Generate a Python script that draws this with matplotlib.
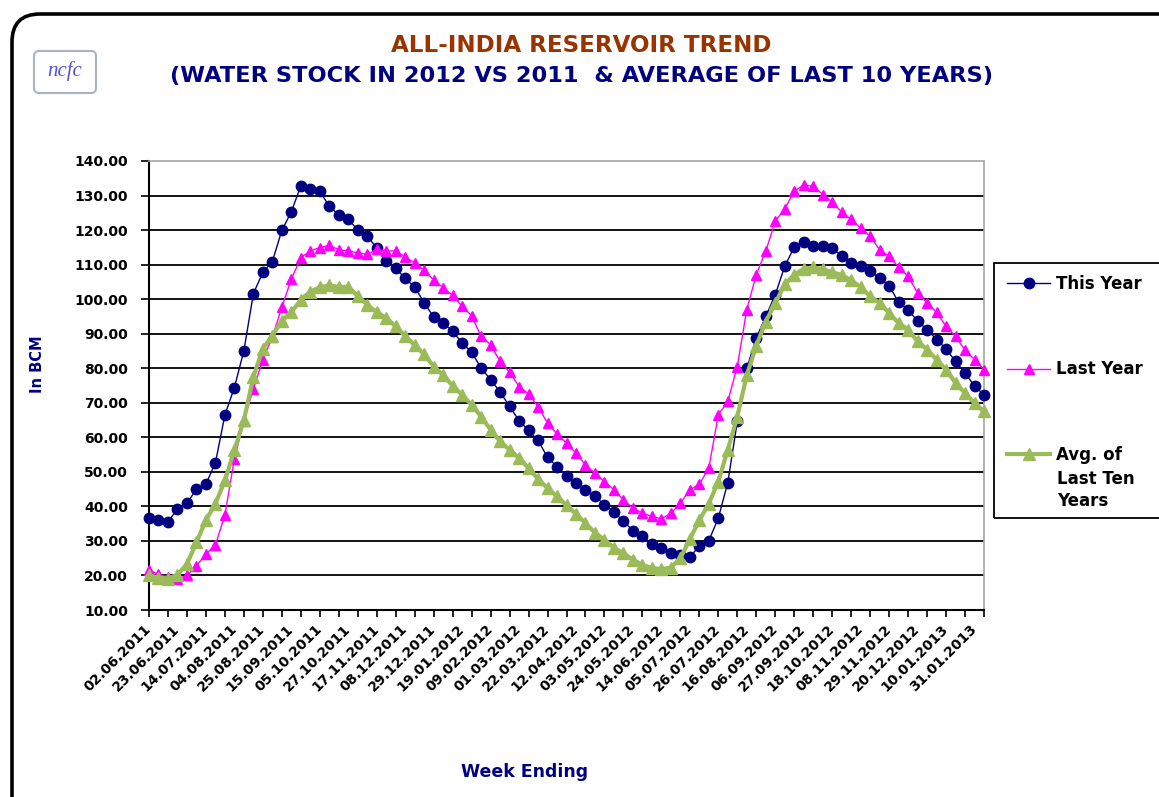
import numpy as np
import matplotlib

matplotlib.use("Agg")
import matplotlib.pyplot as plt
from matplotlib.patches import FancyBboxPatch, Rectangle
from matplotlib.transforms import IdentityTransform
from matplotlib.lines import Line2D


# weekly storage, in BCM, 02.06.2011 .. 07.02.2013
this_year = [
    36.5, 36.2, 35.6, 39.2, 40.9, 45.0, 46.5, 52.6, 66.5, 74.4,
    85.1, 101.6, 107.8, 110.9, 119.9, 125.3, 132.8, 132.0, 131.2, 126.9,
    124.4, 123.2, 120.0, 118.4, 114.7, 111.0, 109.0, 106.0, 103.5, 99.0,
    94.8, 93.1, 90.7, 87.3, 84.6, 80.1, 76.7, 73.1, 69.0, 64.8,
    62.0, 59.1, 54.2, 51.5, 48.8, 46.7, 44.7, 42.9, 40.5, 38.4,
    35.7, 33.0, 31.3, 29.2, 27.9, 26.4, 26.0, 25.4, 28.5, 30.1,
    36.6, 46.9, 64.6, 80.0, 88.7, 95.0, 101.3, 109.5, 115.1, 116.6,
    115.5, 115.5, 114.8, 112.5, 110.4, 109.7, 108.1, 106.1, 103.9, 99.1,
    97.0, 93.6, 91.2, 88.3, 85.6, 82.0, 78.6, 74.9, 72.3,
]
last_year = [
    21.5, 20.3, 19.6, 19.0, 20.0, 22.8, 26.2, 28.8, 37.5, 53.8,
    64.8, 74.0, 82.5, 89.0, 97.7, 105.8, 112.0, 114.0, 114.9, 115.6,
    114.3, 114.0, 113.4, 113.0, 114.4, 113.9, 114.0, 112.2, 110.5, 108.4,
    105.5, 103.3, 101.1, 97.9, 95.2, 89.2, 86.8, 82.0, 78.8, 74.7,
    72.6, 68.9, 64.1, 60.9, 58.3, 55.4, 52.0, 49.6, 47.2, 44.8,
    41.9, 39.5, 38.0, 37.1, 36.4, 38.0, 40.9, 44.8, 46.4, 51.1,
    66.5, 70.4, 80.5, 97.0, 107.1, 113.9, 122.6, 126.1, 131.3, 133.0,
    132.7, 130.3, 128.1, 125.2, 123.1, 120.6, 118.2, 114.3, 112.4, 109.3,
    106.6, 101.8, 98.9, 96.2, 92.1, 89.2, 85.2, 82.5, 79.6,
]
avg_ten = [
    20.0, 19.4, 19.1, 20.2, 23.3, 29.6, 36.0, 40.8, 47.5, 56.3,
    65.0, 77.5, 85.7, 89.4, 93.8, 96.2, 99.8, 102.2, 103.4, 104.0,
    103.5, 103.6, 100.9, 98.4, 96.2, 94.6, 92.1, 89.3, 86.7, 84.0,
    80.5, 78.0, 74.9, 72.3, 69.4, 66.0, 62.2, 58.8, 56.4, 54.0,
    51.1, 47.9, 45.3, 42.9, 40.3, 37.8, 35.1, 32.4, 30.3, 28.0,
    26.4, 24.6, 23.0, 22.2, 21.8, 22.3, 25.0, 30.5, 36.0, 40.8,
    47.2, 56.4, 66.0, 78.0, 86.5, 93.5, 98.8, 104.3, 107.1, 108.8,
    109.2, 108.7, 107.8, 107.0, 105.5, 103.5, 100.8, 98.9, 96.0, 93.1,
    91.2, 87.8, 85.4, 82.5, 79.6, 75.7, 72.8, 69.9, 67.5,
]
# every third week is labelled
week_labels = [
    "02.06.2011", "23.06.2011", "14.07.2011", "04.08.2011", "25.08.2011",
    "15.09.2011", "05.10.2011", "27.10.2011", "17.11.2011", "08.12.2011",
    "29.12.2011", "19.01.2012", "09.02.2012", "01.03.2012", "22.03.2012",
    "12.04.2012", "03.05.2012", "24.05.2012", "14.06.2012", "05.07.2012",
    "26.07.2012", "16.08.2012", "06.09.2012", "27.09.2012", "18.10.2012",
    "08.11.2012", "29.11.2012", "20.12.2012", "10.01.2013", "31.01.2013",
]

W, H = 1159, 797
plt.rcParams["font.family"] = "DejaVu Sans"
plt.rcParams["font.weight"] = "bold"

fig = plt.figure(figsize=(W / 100, H / 100), dpi=100)

# rounded outer frame
fig.add_artist(FancyBboxPatch((12, -60), 1300, H - 14 + 60,
                              boxstyle="round,pad=0,rounding_size=28",
                              transform=IdentityTransform(), fill=False,
                              edgecolor="black", lw=2.6))
# ncfc logo
fig.add_artist(FancyBboxPatch((34, H - 93), 62, 42,
                              boxstyle="round,pad=0,rounding_size=5",
                              transform=IdentityTransform(), fill=False,
                              edgecolor="#a9b3c6", lw=1.5))
fig.text(65 / W, 1 - 71 / H, "ncfc", ha="center", va="center", fontsize=15,
         family="Liberation Serif", style="italic", weight="normal", color="#5555cc")

fig.text(581 / W, 1 - 45 / H, "ALL-INDIA RESERVOIR TREND", ha="center", va="center",
         fontsize=16.6, weight="bold", color="#993300")
fig.text(582 / W, 1 - 76 / H, "(WATER STOCK IN 2012 VS 2011  & AVERAGE OF LAST 10 YEARS)",
         ha="center", va="center", fontsize=16.2, weight="bold", color="#000080")

ax = fig.add_axes([149 / W, 1 - 610 / H, (984 - 149) / W, (610 - 161) / H])
x = np.arange(len(this_year))

ax.plot(x, this_year, color="#000080", lw=1.0, marker="o", ms=7.5,
        mec="#000080", mfc="#000080", zorder=3, clip_on=False)
ax.plot(x, last_year, color="#ff00ff", lw=1.0, marker="^", ms=7.5,
        mec="#ff00ff", mfc="#ff00ff", zorder=4, clip_on=False)
ax.plot(x, avg_ten, color="#9bbb59", lw=3.0, marker="^", ms=9,
        mec="#9bbb59", mfc="#9bbb59", zorder=5, clip_on=False)

ax.set_xlim(0, len(this_year) - 1)
ax.set_ylim(10, 140)
ax.set_yticks(np.arange(10, 141, 10))
ax.yaxis.set_major_formatter(matplotlib.ticker.FormatStrFormatter("%.2f"))
ax.tick_params(axis="y", direction="out", length=6, width=1.2, pad=9,
               labelsize=10, colors="black")

ax.xaxis.remove_overlapping_locs = False
ax.set_xticks(np.arange(0, len(this_year), 2))
ax.set_xticklabels([])
ax.tick_params(axis="x", which="major", direction="out", length=5, width=1.2)
ax.set_xticks(np.arange(0, len(this_year), 3)[:len(week_labels)], minor=True)
ax.set_xticklabels(week_labels, minor=True, rotation=45, ha="right",
                   rotation_mode="anchor", va="center", fontsize=10)
ax.tick_params(axis="x", which="minor", length=0, pad=12)

ax.grid(axis="y", color="black", lw=1.3, zorder=1)
ax.get_ygridlines()[-1].set_visible(False)
ax.set_axisbelow(True)
for side in ["left", "bottom"]:
    ax.spines[side].set_color("black")
    ax.spines[side].set_linewidth(1.5)
for side in ["top", "right"]:
    ax.spines[side].set_color("#a6a6a6")
    ax.spines[side].set_linewidth(1.2)

fig.text(38 / W, 1 - 364 / H, "In BCM", rotation=90, ha="center", va="center",
         fontsize=10.5, weight="bold", color="#000080")
fig.text(525 / W, 1 - 772 / H, "Week Ending", ha="center", va="center",
         fontsize=12.5, weight="bold", color="#000080")

# legend box
fig.add_artist(Rectangle((994, H - 518), 300, 255, transform=IdentityTransform(),
                         fill=False, edgecolor="black", lw=1.3))
handles = [
    Line2D([], [], color="#000080", lw=1.0, marker="o", ms=7.5),
    Line2D([], [], color="#ff00ff", lw=1.0, marker="^", ms=7.5),
    Line2D([], [], color="#9bbb59", lw=3.0, marker="^", ms=9),
]
leg = fig.legend(handles, ["This Year", "Last Year", "Avg. of"],
                 loc="upper left", bbox_to_anchor=(1007 / W, 1 - 275 / H),
                 frameon=False, borderpad=0, borderaxespad=0,
                 handlelength=2.6, handletextpad=0.35, labelspacing=4.05,
                 prop={"size": 12, "weight": "bold"})
fig.text(1057 / W, 1 - 470 / H, "Last Ten\nYears", ha="left", va="top",
         fontsize=12, weight="bold", linespacing=1.3)

fig.savefig("out.png", dpi=100)
